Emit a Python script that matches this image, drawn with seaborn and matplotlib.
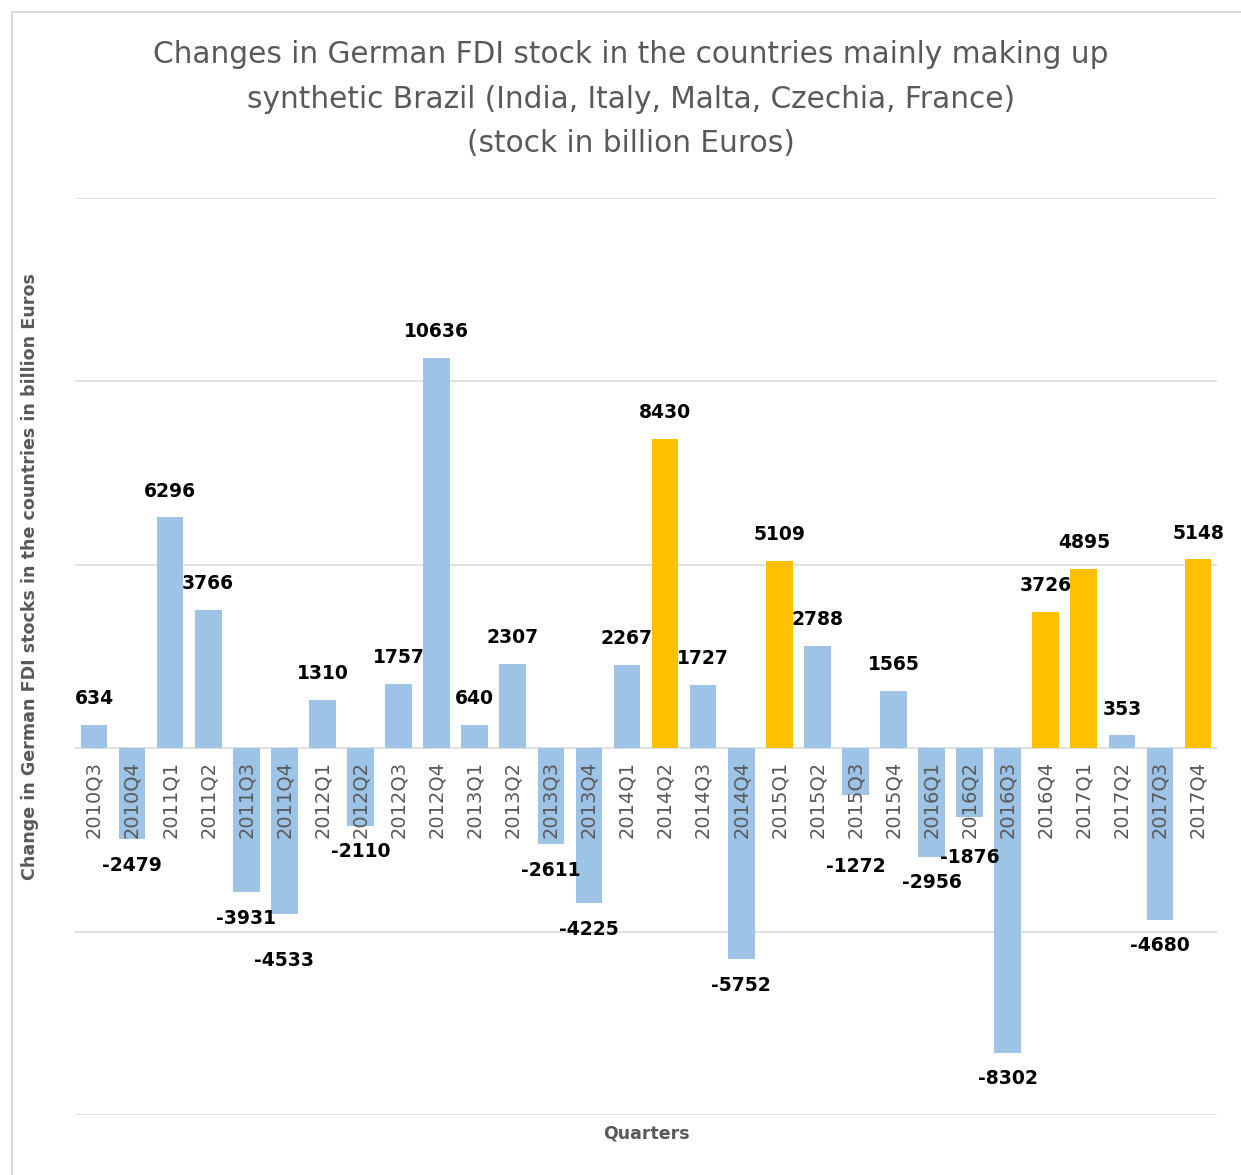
import numpy as np
import pandas as pd
import seaborn as sns
import matplotlib.pyplot as plt
from matplotlib.patches import Rectangle

# quarters and changes in FDI stock
quarters = ['2010Q3', '2010Q4', '2011Q1', '2011Q2', '2011Q3', '2011Q4',
            '2012Q1', '2012Q2', '2012Q3', '2012Q4', '2013Q1', '2013Q2',
            '2013Q3', '2013Q4', '2014Q1', '2014Q2', '2014Q3', '2014Q4',
            '2015Q1', '2015Q2', '2015Q3', '2015Q4', '2016Q1', '2016Q2',
            '2016Q3', '2016Q4', '2017Q1', '2017Q2', '2017Q3', '2017Q4']
changes = [634, -2479, 6296, 3766, -3931, -4533,
           1310, -2110, 1757, 10636, 640, 2307,
           -2611, -4225, 2267, 8430, 1727, -5752,
           5109, 2788, -1272, 1565, -2956, -1876,
           -8302, 3726, 4895, 353, -4680, 5148]
highlighted = ['2014Q2', '2015Q1', '2016Q4', '2017Q1', '2017Q4']

# labels pushed further down so they don't collide (points)
label_drop = {'2011Q4': 14, '2016Q2': 10, '2015Q3': 33}

BLUE = '#9DC3E6'
GOLD = '#FFC000'
GREY = '#595959'

df = pd.DataFrame({'quarter': quarters, 'change': changes})
colors = [GOLD if q in highlighted else BLUE for q in quarters]

sns.set_style('white')
plt.rcParams['font.family'] = ['DejaVu Sans']

fig = plt.figure(figsize=(12.41, 11.75), dpi=100)
ax = fig.add_axes([0.0604, 0.0511, 0.9203, 0.7804])

sns.barplot(data=df, x='quarter', y='change', hue='quarter',
            palette=colors, legend=False, width=0.7, saturation=1,
            linewidth=0, ax=ax, zorder=2)

ax.set_ylim(-10000, 15000)
ax.set_xlim(-0.5, len(quarters) - 0.5)
ax.set_yticks([-10000, -5000, 0, 5000, 10000, 15000])
ax.yaxis.grid(True, color='#D9D9D9', linewidth=1.2, zorder=0)
ax.set_axisbelow(True)
ax.set_yticklabels([])
ax.set_xticks([])
ax.tick_params(left=False, bottom=False)
ax.set_xlabel('')
ax.set_ylabel('')
for s in ax.spines.values():
    s.set_visible(False)

# quarter labels sit just under the zero line, on top of the bars
for i, q in enumerate(quarters):
    ax.annotate(q, (i, 0), xytext=(0, -9), textcoords='offset points',
                rotation=90, ha='center', va='top', fontsize=14,
                color=GREY, zorder=5)

# value labels
for i, (q, v) in enumerate(zip(quarters, changes)):
    if v >= 0:
        off, va = 12, 'bottom'
    else:
        off, va = -12 - label_drop.get(q, 0), 'top'
    ax.annotate(str(v), (i, v), xytext=(0, off), textcoords='offset points',
                ha='center', va=va, fontsize=13.5, fontweight='bold',
                color='black', zorder=6)

fig.text(0.5085, 0.9155,
         'Changes in German FDI stock in the countries mainly making up\n'
         'synthetic Brazil (India, Italy, Malta, Czechia, France)\n'
         '(stock in billion Euros)',
         ha='center', va='center', fontsize=21.3, color=GREY, linespacing=1.68)

fig.text(0.0245, 0.509, 'Change in German FDI stocks in the countries in billion Euros',
         rotation=90, ha='center', va='center', fontsize=12.6, fontweight='bold', color=GREY)
fig.text(0.5205, 0.0355, 'Quarters', ha='center', va='center',
         fontsize=12.5, fontweight='bold', color=GREY)

# chart area border
fig.patches.append(Rectangle((0.0097, -0.01), 1.0, 1.0 - 0.0102 + 0.01,
                             transform=fig.transFigure, fill=False,
                             edgecolor='#D9D9D9', linewidth=1.5))

plt.savefig('out.png', dpi=100)
